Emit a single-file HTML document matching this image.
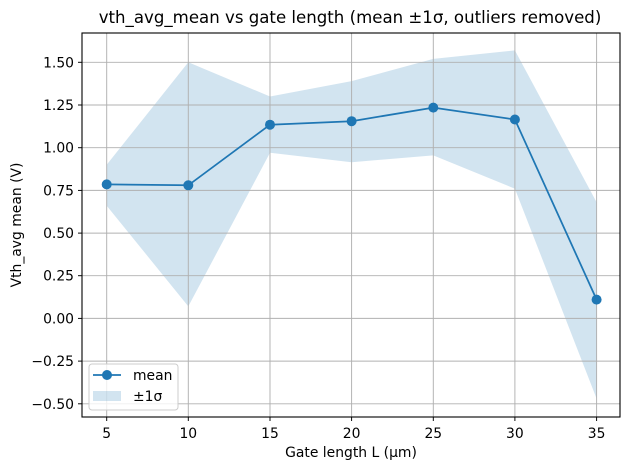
<!DOCTYPE html>
<html><head><meta charset="utf-8"><style>body{margin:0;background:#fff}svg{display:block}</style></head><body>
<svg width="630" height="470" xmlns="http://www.w3.org/2000/svg" font-family="DejaVu Sans, Liberation Sans, sans-serif">
<rect width="630" height="470" fill="#fff"/>
<polygon fill="#1f77b4" fill-opacity="0.2" points="106.7,164.8 188.3,62.3 270,96.5 351.6,81.1 433.3,58.9 514.9,50.4 596.6,202.3 596.6,398.6 514.9,188.7 433.3,155.4 351.6,162.2 270,152.8 188.3,306.4 106.7,205.7"/>
<g stroke="#b0b0b0" stroke-width="0.95">
<line x1="106.7" y1="33" x2="106.7" y2="417"/><line x1="188.3" y1="33" x2="188.3" y2="417"/><line x1="270" y1="33" x2="270" y2="417"/><line x1="351.6" y1="33" x2="351.6" y2="417"/><line x1="433.3" y1="33" x2="433.3" y2="417"/><line x1="514.9" y1="33" x2="514.9" y2="417"/><line x1="596.6" y1="33" x2="596.6" y2="417"/>
<line x1="82" y1="403.8" x2="620" y2="403.8"/><line x1="82" y1="361.1" x2="620" y2="361.1"/><line x1="82" y1="318.4" x2="620" y2="318.4"/><line x1="82" y1="275.7" x2="620" y2="275.7"/><line x1="82" y1="233.1" x2="620" y2="233.1"/><line x1="82" y1="190.4" x2="620" y2="190.4"/><line x1="82" y1="147.7" x2="620" y2="147.7"/><line x1="82" y1="105" x2="620" y2="105"/><line x1="82" y1="62.3" x2="620" y2="62.3"/>
</g>
<polyline fill="none" stroke="#1f77b4" stroke-width="1.75" points="106.7,184.4 188.3,185.3 270,124.7 351.6,121.2 433.3,107.6 514.9,119.5 596.6,299.6"/>
<g fill="#1f77b4"><circle cx="106.7" cy="184.4" r="5"/><circle cx="188.3" cy="185.3" r="5"/><circle cx="270" cy="124.7" r="5"/><circle cx="351.6" cy="121.2" r="5"/><circle cx="433.3" cy="107.6" r="5"/><circle cx="514.9" cy="119.5" r="5"/><circle cx="596.6" cy="299.6" r="5"/></g>
<rect x="82" y="33" width="538" height="384" fill="none" stroke="#000" stroke-width="1.1"/>
<g stroke="#000" stroke-width="0.95">
<line x1="106.7" y1="417" x2="106.7" y2="421"/><line x1="188.3" y1="417" x2="188.3" y2="421"/><line x1="270" y1="417" x2="270" y2="421"/><line x1="351.6" y1="417" x2="351.6" y2="421"/><line x1="433.3" y1="417" x2="433.3" y2="421"/><line x1="514.9" y1="417" x2="514.9" y2="421"/><line x1="596.6" y1="417" x2="596.6" y2="421"/>
<line x1="78" y1="403.8" x2="82" y2="403.8"/><line x1="78" y1="361.1" x2="82" y2="361.1"/><line x1="78" y1="318.4" x2="82" y2="318.4"/><line x1="78" y1="275.7" x2="82" y2="275.7"/><line x1="78" y1="233.1" x2="82" y2="233.1"/><line x1="78" y1="190.4" x2="82" y2="190.4"/><line x1="78" y1="147.7" x2="82" y2="147.7"/><line x1="78" y1="105" x2="82" y2="105"/><line x1="78" y1="62.3" x2="82" y2="62.3"/>
</g>
<g font-size="13.9" text-anchor="middle" fill="#000">
<text x="106.7" y="438">5</text><text x="188.3" y="438">10</text><text x="270" y="438">15</text><text x="351.6" y="438">20</text><text x="433.3" y="438">25</text><text x="514.9" y="438">30</text><text x="596.6" y="438">35</text>
</g>
<g font-size="13.9" text-anchor="end" fill="#000">
<text x="74" y="408.8">−0.50</text><text x="74" y="366.1">−0.25</text><text x="74" y="323.4">0.00</text><text x="74" y="280.7">0.25</text><text x="74" y="238.1">0.50</text><text x="74" y="195.4">0.75</text><text x="74" y="152.7">1.00</text><text x="74" y="110">1.25</text><text x="74" y="67.3">1.50</text>
</g>
<text x="351" y="457" font-size="13.9" text-anchor="middle">Gate length L (µm)</text>
<text transform="translate(21,225) rotate(-90)" font-size="13.9" text-anchor="middle">Vth_avg mean (V)</text>
<text x="350" y="23" font-size="16.6" text-anchor="middle">vth_avg_mean vs gate length (mean ±1σ, outliers removed)</text>
<rect x="89" y="364" width="89" height="46" rx="3" fill="#fff" fill-opacity="0.8" stroke="#ccc" stroke-width="1"/>
<line x1="93" y1="375" x2="121" y2="375" stroke="#1f77b4" stroke-width="1.75"/>
<circle cx="107" cy="375" r="5" fill="#1f77b4"/>
<text x="133" y="380" font-size="13.9">mean</text>
<rect x="93" y="391" width="28" height="10" fill="#1f77b4" fill-opacity="0.2"/>
<text x="133" y="401" font-size="13.9">±1σ</text>
</svg>
</body></html>
